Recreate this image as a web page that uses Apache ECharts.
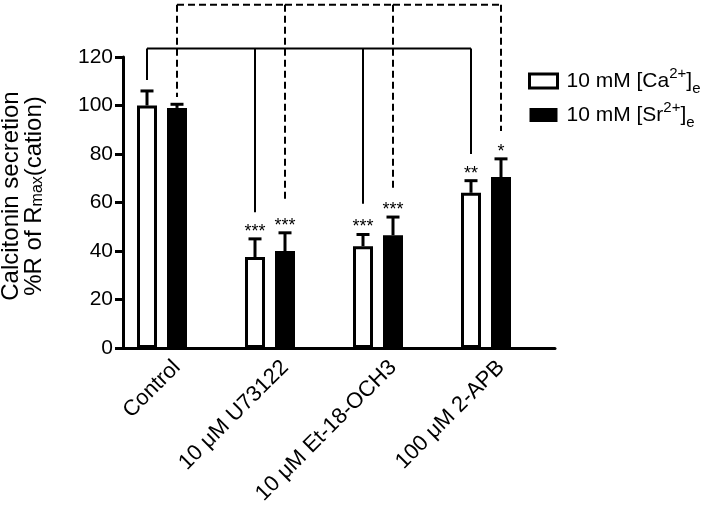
<!DOCTYPE html>
<html>
<head>
<meta charset="utf-8">
<script src="https://cdn.jsdelivr.net/npm/echarts@6/dist/echarts.min.js"></script>
<style>html,body{margin:0;padding:0;background:#fff}#c{width:720px;height:510px}</style>
</head>
<body>
<div id="c"></div>
<script>
// ---- data ----
const categories = ['Control', '10 \u03bcM U73122', '10 \u03bcM Et-18-OCH3', '100 \u03bcM 2-APB'];
const seriesNames = ['10 mM [Ca2+]e', '10 mM [Sr2+]e'];
const legendRich = ['{m|10 mM [Ca}{sup|2+}{m|]}{sub|e}', '{m|10 mM [Sr}{sup|2+}{m|]}{sub|e}'];
const caMean = [100, 37.5, 42, 64];
const caErr = [6, 7.5, 4.8, 5];
const srMean = [99, 40, 46.5, 70.5];
const srErr = [1.5, 7.5, 7.5, 7.5];
const caStars = ['', '***', '***', '**'];
const srStars = ['', '***', '***', '*'];
// comparison brackets (value units): common level and where each drop ends
const caBracketLevel = 123.5;
const caBracketEnds = [110.5, 56, 59.5, 80];
const srBracketLevel = 141.5;
const srBracketEnds = [103.5, 61, 66, 89.5];
const yTicks = { min: 0, max: 120, interval: 20 };

// ---- style constants ----
const FONT = 'Liberation Sans, Arial, sans-serif';
const BAR_W = 20, BAR_GAP = 0.5;
const caOffset = -BAR_W * (1 + BAR_GAP); // white bar sits one slot left of the category centre
const srOffset = 0;

const chart = echarts.init(document.getElementById('c'), null, { renderer: 'canvas' });

function errorRender(offset, stars) {
  return function (params, api) {
    const i = api.value(0), m = api.value(1), e = api.value(2);
    const base = api.coord([i, m]);
    const top = api.coord([i, m + e]);
    const x = base[0] + offset;
    const ls = { stroke: '#000', lineWidth: 3 };
    return {
      type: 'group',
      children: [
        { type: 'line', shape: { x1: x, y1: base[1], x2: x, y2: top[1] }, style: ls },
        { type: 'line', shape: { x1: x - 6.5, y1: top[1], x2: x + 6.5, y2: top[1] }, style: ls },
        { type: 'text', x: x, y: top[1] + 2, style: { text: stars[i], fill: '#000', font: '18px ' + FONT, textAlign: 'center', textVerticalAlign: 'bottom', align: 'center', verticalAlign: 'bottom' } }
      ]
    };
  };
}

function bracketRender(offset, level, dashed) {
  return function (params, api) {
    const i = api.value(0), end = api.value(1);
    const p0 = api.coord([i, level]);
    const p1 = api.coord([i, end]);
    const x = p0[0] + offset;
    const st = { stroke: '#000', lineWidth: 2, lineDash: dashed ? [7, 4] : null, fill: null };
    const children = [{ type: 'line', shape: { x1: x, y1: p0[1], x2: x, y2: p1[1] }, style: st }];
    if (i < categories.length - 1) {
      const q = api.coord([i + 1, level]);
      children.push({ type: 'line', shape: { x1: x, y1: p0[1], x2: q[0] + offset, y2: p0[1] }, style: st });
    }
    return { type: 'group', children: children };
  };
}

const option = {
  animation: false,
  backgroundColor: '#fff',
  textStyle: { fontFamily: FONT, color: '#000' },
  grid: { left: 123, right: 165, top: 57, bottom: 162, containLabel: false },
  legend: {
    orient: 'vertical',
    left: 523,
    top: 61,
    itemWidth: 28,
    itemHeight: 14,
    itemGap: 4,
    icon: 'rect',
    data: [
      { name: seriesNames[0], itemStyle: { color: '#fff', borderColor: '#000', borderWidth: 3 } },
      { name: seriesNames[1], itemStyle: { color: '#000', borderColor: '#000', borderWidth: 0 } }
    ],
    formatter: function (name) { return legendRich[seriesNames.indexOf(name)]; },
    textStyle: {
      padding: [0, 0, 0, 4],
      rich: {
        m: { fontSize: 21, lineHeight: 30, fontFamily: FONT, color: '#000', verticalAlign: 'middle' },
        sup: { fontSize: 15, lineHeight: 14, fontFamily: FONT, color: '#000', verticalAlign: 'top' },
        sub: { fontSize: 15, lineHeight: 10, fontFamily: FONT, color: '#000', verticalAlign: 'bottom' }
      }
    }
  },
  xAxis: {
    type: 'category',
    data: categories,
    axisLine: { lineStyle: { color: '#000', width: 3 } },
    axisTick: { alignWithLabel: true, length: 9, lineStyle: { color: '#000', width: 3 } },
    axisLabel: { rotate: 45, fontSize: 22, color: '#000', fontFamily: FONT, margin: 16, interval: 0 },
    splitLine: { show: false }
  },
  yAxis: {
    type: 'value',
    min: yTicks.min, max: yTicks.max, interval: yTicks.interval,
    axisLine: { show: true, lineStyle: { color: '#000', width: 3 } },
    axisTick: { show: true, length: 8, lineStyle: { color: '#000', width: 3 } },
    axisLabel: { fontSize: 21, color: '#000', fontFamily: FONT, margin: 10 },
    splitLine: { show: false }
  },
  graphic: [
    {
      type: 'text',
      x: 23, y: 196,
      rotation: Math.PI / 2,
      style: {
        text: '{t|Calcitonin secretion}\n{t|%R of R}{s|max}{t|(cation)}',
        align: 'center', verticalAlign: 'middle',
        textAlign: 'center', textVerticalAlign: 'middle',
        rich: {
          t: { fontSize: 24, lineHeight: 23, fontFamily: FONT, fill: '#000', color: '#000', align: 'center' },
          s: { fontSize: 16, lineHeight: 6, fontFamily: FONT, fill: '#000', color: '#000', verticalAlign: 'bottom' }
        }
      }
    }
  ],
  series: [
    {
      name: seriesNames[0], type: 'bar', data: caMean, barWidth: BAR_W, barGap: (BAR_GAP * 100) + '%',
      itemStyle: { color: '#fff', borderColor: '#000', borderWidth: 3 }
    },
    {
      name: seriesNames[1], type: 'bar', data: srMean, barWidth: BAR_W, barGap: (BAR_GAP * 100) + '%',
      itemStyle: { color: '#000', borderColor: '#000', borderWidth: 3 }
    },
    {
      name: 'spacer', type: 'bar', data: [], barWidth: BAR_W, barGap: (BAR_GAP * 100) + '%'
    },
    {
      type: 'custom', name: 'caErr', z: 5, clip: false,
      data: categories.map((c, i) => [i, caMean[i], caErr[i]]),
      encode: { x: 0, y: 1 },
      renderItem: errorRender(caOffset, caStars)
    },
    {
      type: 'custom', name: 'srErr', z: 5, clip: false,
      data: categories.map((c, i) => [i, srMean[i], srErr[i]]),
      encode: { x: 0, y: 1 },
      renderItem: errorRender(srOffset, srStars)
    },
    {
      type: 'custom', name: 'caBracket', z: 4, clip: false,
      data: categories.map((c, i) => [i, caBracketEnds[i]]),
      encode: { x: 0, y: 1 },
      renderItem: bracketRender(caOffset, caBracketLevel, false)
    },
    {
      type: 'custom', name: 'srBracket', z: 4, clip: false,
      data: categories.map((c, i) => [i, srBracketEnds[i]]),
      encode: { x: 0, y: 1 },
      renderItem: bracketRender(srOffset, srBracketLevel, true)
    }
  ]
};
chart.setOption(option);
</script>
</body>
</html>
